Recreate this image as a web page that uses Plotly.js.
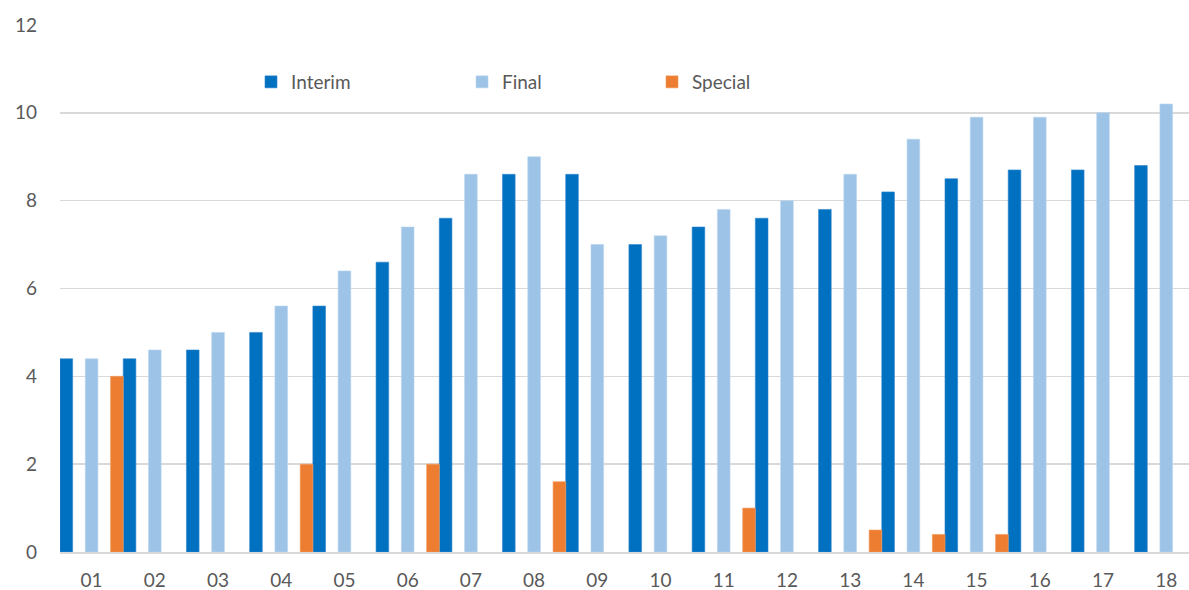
<!DOCTYPE html>
<html>
<head>
<meta charset="utf-8">
<script src="https://cdn.plot.ly/plotly-3.0.1.min.js"></script>
<style>html,body{margin:0;padding:0;background:#fff;}#chart{width:1189px;height:590px;}</style>
</head>
<body>
<div id="chart"></div>
<script>
const categories = ['01','02','03','04','05','06','07','08','09','10','11','12','13','14','15','16','17','18'];
const interim = [4.4,4.4,4.6,5.0,5.6,6.6,7.6,8.6,8.6,7.0,7.4,7.6,7.8,8.2,8.5,8.7,8.7,8.8];
const finalDiv = [4.4,4.6,5.0,5.6,6.4,7.4,8.6,9.0,7.0,7.2,7.8,8.0,8.6,9.4,9.9,9.9,10.0,10.2];
const special = [4.0,null,null,2.0,null,2.0,null,1.6,null,null,1.0,null,0.5,0.4,0.4,null,null,null];
const yTicks = [0,2,4,6,8,10,12];

const FONT = 'Lato, "Open Sans", sans-serif';
const GREY = '#595959';

const traces = [
  {type:'bar', name:'Interim', x:categories, y:interim, width:0.2, offset:-0.5,
   marker:{color:'#0070c0', line:{color:'#2f86cc', width:0.6}}, legend:'legend', hoverinfo:'x+y+name'},
  {type:'bar', name:'Final', x:categories, y:finalDiv, width:0.2, offset:-0.1,
   marker:{color:'#9dc3e6', line:{color:'#b9d5ee', width:0.6}}, legend:'legend2', hoverinfo:'x+y+name'},
  {type:'bar', name:'Special', x:categories, y:special, width:0.2, offset:0.3,
   marker:{color:'#ed7d31', line:{color:'#f29a5e', width:0.6}}, legend:'legend3', hoverinfo:'x+y+name'}
];

function leg(xpx){
  return {x:(xpx-60)/1129, xanchor:'left', y:(552-82)/527, yanchor:'middle',
    orientation:'h', bgcolor:'rgba(0,0,0,0)', font:{family:FONT, size:19, color:GREY}};
}

const layout = {
  width:1189, height:590,
  margin:{l:60, r:0, t:25, b:38},
  paper_bgcolor:'#fff', plot_bgcolor:'#fff',
  barmode:'overlay',
  showlegend:true,
  legend:leg(251),
  legend2:leg(462),
  legend3:leg(652),
  font:{family:FONT, size:19, color:GREY},
  xaxis:{type:'category', range:[-0.5,17.36], showgrid:false, showline:true,
    linecolor:'#d9d9d9', linewidth:1.5, ticks:'', ticklabelstandoff:11,
    tickfont:{family:FONT, size:19, color:GREY}, fixedrange:true},
  yaxis:{range:[0,12], tickvals:yTicks, ticktext:yTicks.map(String), showgrid:true,
    gridcolor:'#d9d9d9', gridwidth:1.4, zeroline:false, showline:false, ticks:'',
    ticklabelstandoff:22, tickfont:{family:FONT, size:19, color:GREY}, fixedrange:true}
};

Plotly.newPlot('chart', traces, layout, {displayModeBar:false, staticPlot:true});
</script>
</body>
</html>
